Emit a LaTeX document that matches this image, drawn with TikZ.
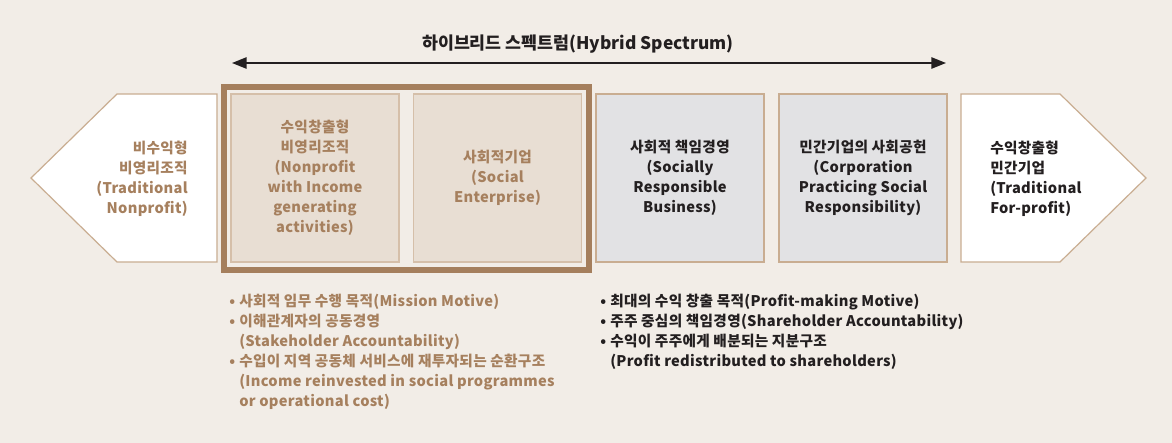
\documentclass[tikz,border=0pt]{standalone}
\usepackage{fontspec}
\setmainfont{Noto Sans CJK KR}
\usetikzlibrary{arrows.meta}
\definecolor{bgbeige}{HTML}{F2EDE7}
\definecolor{tanline}{HTML}{C9AD91}
\definecolor{brownframe}{HTML}{A57F5D}
\definecolor{browntext}{HTML}{A6805E}
\definecolor{boxbeige}{HTML}{E8DED3}
\definecolor{boxbeigeline}{HTML}{D5BFA9}
\definecolor{boxgray}{HTML}{E2E2E4}
\definecolor{darktext}{HTML}{231F20}
\newcommand{\bl}{\makebox[7.5pt][l]{\textbullet}}
\newcommand{\ind}{\hspace*{7.5pt}}
\newcommand{\spectext}{\fontsize{11}{15}\selectfont\bfseries\addfontfeatures{LetterSpace=2}}

\begin{document}
\begin{tikzpicture}[x=0.75pt,y=-0.75pt,
		boxtext/.style={font=\spectext, align=center},
		hybridbox/.style={draw=boxbeigeline, fill=boxbeige, line width=0.9pt, minimum width=126pt, minimum height=126pt, text=browntext, boxtext},
		firmbox/.style={draw=tanline, fill=boxgray, line width=0.9pt, minimum width=126pt, minimum height=126pt, text=darktext, boxtext},
		endshape/.style={draw=tanline, fill=white, line width=0.9pt},
		bullets/.style={font=\spectext, align=left, inner sep=0pt, anchor=north west}]
		\fill[bgbeige] (0,0) rectangle (1172,443);
		\useasboundingbox (0,0) rectangle (1172,443);
		% spectrum arrow
		\coordinate (specleft) at (232,63);
		\coordinate (specright) at (946,63);
		\draw[darktext, line width=1.3pt, {Triangle[length=11pt,width=8.5pt]}-{Triangle[length=11pt,width=8.5pt]}] (specleft) -- (specright);
		\node[font=\fontsize{13}{15}\selectfont\bfseries, text=darktext] (spectitle) at (578,44) {하이브리드 스펙트럼(Hybrid Spectrum)};
		% both ends
		\draw[endshape] (31,178) -- (117,94) -- (217,94) -- (217,262) -- (117,262) -- cycle;
		\draw[endshape] (1146,178) -- (1060,94) -- (961,94) -- (961,262) -- (1060,262) -- cycle;
		\node[boxtext, align=right, anchor=east, inner sep=0pt, text=browntext] (nonprofit) at (188,179) {비수익형\\비영리조직\\(Traditional\\Nonprofit)};
		\node[boxtext, align=left, anchor=west, inner sep=0pt, text=darktext] (forprofit) at (990,179) {수익창출형\\민간기업\\(Traditional\\For-profit)};
		% middle boxes
		\node[hybridbox] (incomenp) at (315,178) {수익창출형\\비영리조직\\(Nonprofit\\with Income\\generating\\activities)};
		\node[hybridbox] (socent) at (497.5,178) {사회적기업\\(Social\\Enterprise)};
		\node[firmbox] (srb) at (680,178) {사회적 책임경영\\(Socially\\Responsible\\Business)};
		\node[firmbox] (cpsr) at (863,178) {민간기업의 사회공헌\\(Corporation\\Practicing Social\\Responsibility)};
		\draw[brownframe, line width=3.8pt] (224,87) rectangle (589,270);
		% notes
		\node[bullets, text=browntext] (missionnotes) at (229,294) {\bl 사회적 임무 수행 목적(Mission Motive)\\
			\bl 이해관계자의 공동경영\\
			\ind (Stakeholder Accountability)\\
			\bl 수입이 지역 공동체 서비스에 재투자되는 순환구조\\
			\ind (Income reinvested in social programmes\\
			\ind or operational cost)};
		\node[bullets, text=darktext] (profitnotes) at (600,294) {\bl 최대의 수익 창출 목적(Profit-making Motive)\\
			\bl 주주 중심의 책임경영(Shareholder Accountability)\\
			\bl 수익이 주주에게 배분되는 지분구조\\
			\ind (Profit redistributed to shareholders)};
\end{tikzpicture}
\end{document}
